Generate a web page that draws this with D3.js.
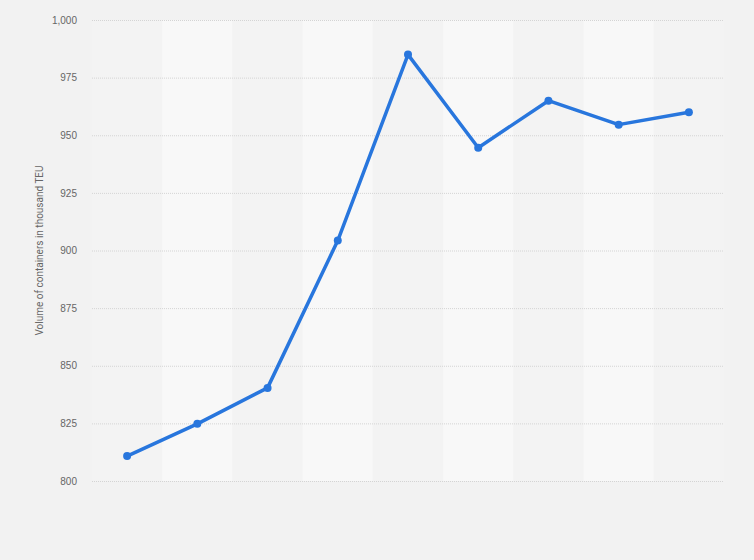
<!DOCTYPE html>
<html>
<head>
<meta charset="utf-8">
<script src="https://cdn.jsdelivr.net/npm/d3@7"></script>
<style>
  html, body { margin: 0; padding: 0; background: #f2f2f2; }
  svg { display: block; font-family: Roboto, "Noto Sans", sans-serif; }
</style>
</head>
<body>
<div id="chart"></div>
<script>
// Chart data (x labels are not shown in the picture)
const categories = ['1', '2', '3', '4', '5', '6', '7', '8', '9'];
const volumes = [810.8, 824.8, 840.4, 904.3, 985, 944.6, 965, 954.6, 960];
const yTicks = [800, 825, 850, 875, 900, 925, 950, 975, 1000];
const yTitle = 'Volume of containers in thousand TEU';

const width = 754, height = 560;
const margin = { top: 20, right: 30, bottom: 79, left: 92 };

const svg = d3.select('#chart')
  .append('svg')
  .attr('width', width)
  .attr('height', height);

svg.append('rect')
  .attr('width', width)
  .attr('height', height)
  .attr('fill', '#f2f2f2');

const x = d3.scaleBand()
  .domain(categories)
  .range([margin.left, width - margin.right]);

const y = d3.scaleLinear()
  .domain([800, 1000])
  .range([height - margin.bottom, margin.top]);

// Alternating column bands
svg.append('g')
  .selectAll('rect')
  .data(categories)
  .join('rect')
  .attr('x', d => x(d))
  .attr('y', y(1000))
  .attr('width', x.bandwidth())
  .attr('height', y(800) - y(1000))
  .attr('fill', (d, i) => i % 2 ? '#f8f8f8' : '#f3f3f3');

// Gridlines + tick labels
const yAxis = svg.append('g')
  .attr('transform', `translate(${margin.left},0)`)
  .call(d3.axisLeft(y)
    .tickValues(yTicks)
    .tickSize(-(width - margin.left - margin.right))
    .tickPadding(15)
    .tickFormat(d3.format(',')));

yAxis.select('.domain').remove();
yAxis.selectAll('.tick line')
  .attr('stroke', '#d4d4d4')
  .attr('stroke-dasharray', '1,1');
yAxis.selectAll('.tick text')
  .attr('fill', '#666')
  .attr('font-size', '10px');

// Axis title
svg.append('text')
  .attr('transform', `translate(43,${(y(800) + y(1000)) / 2}) rotate(-90)`)
  .attr('text-anchor', 'middle')
  .attr('fill', '#666')
  .attr('font-size', '10px')
  .text(yTitle);

const cx = d => x(d) + x.bandwidth() / 2;

const line = d3.line()
  .x((d, i) => cx(categories[i]))
  .y(d => y(d));

svg.append('path')
  .datum(volumes)
  .attr('fill', 'none')
  .attr('stroke', '#2876dd')
  .attr('stroke-width', 3.5)
  .attr('stroke-linejoin', 'round')
  .attr('d', line);

svg.append('g')
  .selectAll('circle')
  .data(volumes)
  .join('circle')
  .attr('cx', (d, i) => cx(categories[i]))
  .attr('cy', d => y(d))
  .attr('r', 4)
  .attr('fill', '#2876dd');
</script>
</body>
</html>
